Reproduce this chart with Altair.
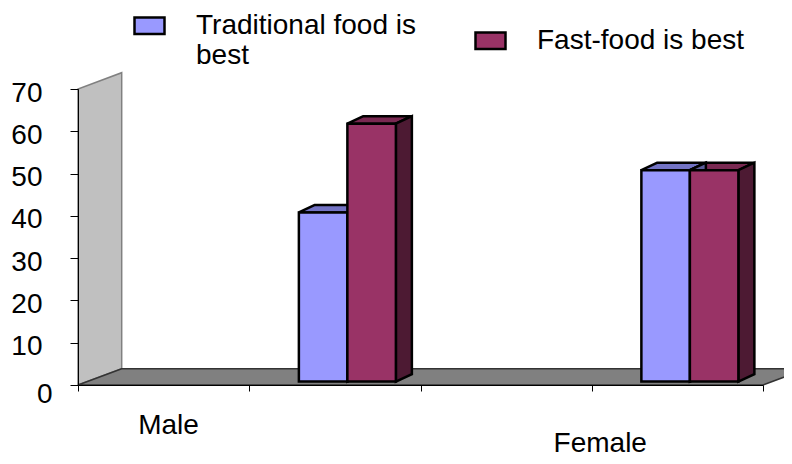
import altair as alt
import pandas as pd

# ---------------- data ----------------
series = ["Traditional food is best", "Fast-food is best"]
groups = ["Male", "Female"]
traditional = [40, 50]
fastfood = [61, 50]
y_ticks = [0, 10, 20, 30, 40, 50, 60, 70]
x_ticks = [0, 1, 2, 3, 4]
label_ticks = [0, 3]          # category tick carrying each group label
group_pos = [1.5, 3.5]        # category position of each group's bars

# ---------------- style / layout ----------------
FONT = "Liberation Sans"
BLUE, RED = "#9999FF", "#993366"
BLUE_TOP, RED_TOP = "#7373C4", "#7A2952"
BLUE_SIDE, RED_SIDE = "#5C5C99", "#4D1A33"
W, H = 685, 296
X_MAX, Y_MAX = 4, 70
PX_X = W / X_MAX
PX_Y = H / Y_MAX
# 3-D depth offsets (pixels -> data units)
WALL_DX, WALL_DY = 43.7 / PX_X, 16.3 / PX_Y
BAR_DX, BAR_DY = 16 / PX_X, 7.5 / PX_Y
FRONT_DX, FRONT_DY = 12.5 / PX_X, 3.4 / PX_Y
BAR_W = 48.5 / PX_X

values = {series[0]: traditional, series[1]: fastfood}
tops, sides, fronts = [], [], []
for gi, g in enumerate(groups):
    for k, s in enumerate(series):
        v = values[s][gi]
        x0 = group_pos[gi] + FRONT_DX - BAR_W + k * BAR_W
        x1 = x0 + BAR_W
        y0 = FRONT_DY
        y1 = FRONT_DY + v
        face = f"{g}-{k}"
        tc = [BLUE_TOP, RED_TOP][k]
        sc = [BLUE_SIDE, RED_SIDE][k]
        tops += [
            dict(face=face, fill=tc, y=y1, x=x0, x2=x1),
            dict(face=face, fill=tc, y=y1 + BAR_DY, x=x0 + BAR_DX, x2=x1 + BAR_DX),
        ]
        sides += [
            dict(face=face, fill=sc, x=x1, y=y0, y2=y1),
            dict(face=face, fill=sc, x=x1 + BAR_DX, y=y0 + BAR_DY, y2=y1 + BAR_DY),
        ]
        fronts.append(dict(series=s, group=g, value=v, x=x0, x2=x1, y=y0, y2=y1))

wall = pd.DataFrame([
    dict(face="wall", x=0, y=0, y2=Y_MAX),
    dict(face="wall", x=WALL_DX, y=WALL_DY, y2=Y_MAX + WALL_DY),
])
floor = pd.DataFrame([
    dict(face="floor", y=0, x=0, x2=X_MAX),
    dict(face="floor", y=WALL_DY, x=WALL_DX, x2=X_MAX + WALL_DX),
])

xscale = alt.Scale(domain=[0, X_MAX], nice=False, zero=False)
yscale = alt.Scale(domain=[0, Y_MAX], nice=False)

lab_expr = "".join(
    f"datum.value === {t} ? '{n}' : " for t, n in zip(label_ticks, groups)
) + "''"

x_axis = alt.Axis(
    values=x_ticks, title=None, grid=False, tickSize=6, tickColor="black",
    domainColor="black", labelExpr=lab_expr, labelFont=FONT, labelFontSize=28,
    labelColor="black", labelBaseline="alphabetic", labelFlush=False,
    labelOverlap=False, labelBound=False, zindex=1,
    labelOffset={"condition": {"test": f"datum.value === {label_ticks[0]}", "value": 90}, "value": 8},
    labelPadding={"condition": {"test": f"datum.value === {label_ticks[0]}", "value": 42}, "value": 60},
)
y_axis = alt.Axis(
    values=y_ticks, title=None, grid=False, tickSize=8, tickColor="black",
    domainColor="black", labelFont=FONT, labelFontSize=28, labelColor="black",
    zindex=1,
    labelOffset={"condition": {"test": "datum.value === 0", "value": 9}, "value": 4},
    labelPadding={"condition": {"test": "datum.value === 0", "value": 18}, "value": 28},
)

wall_layer = alt.Chart(wall).mark_area(
    orient="vertical", fill="#C0C0C0", stroke="#808080", strokeWidth=1.5
).encode(
    x=alt.X("x:Q", scale=xscale, axis=x_axis),
    y=alt.Y("y:Q", scale=yscale, axis=y_axis),
    y2="y2:Q",
    detail="face:N",
)
floor_layer = alt.Chart(floor).mark_area(
    orient="horizontal", fill="#808080", stroke="#333333", strokeWidth=1.5
).encode(
    y=alt.Y("y:Q", scale=yscale, axis=y_axis),
    x=alt.X("x:Q", scale=xscale, axis=x_axis),
    x2="x2:Q",
    detail="face:N",
)
top_layer = alt.Chart(pd.DataFrame(tops)).mark_area(
    orient="horizontal", stroke="black", strokeWidth=2.5
).encode(
    y=alt.Y("y:Q", scale=yscale, axis=y_axis),
    x=alt.X("x:Q", scale=xscale, axis=x_axis),
    x2="x2:Q",
    fill=alt.Fill("fill:N", scale=None),
    detail="face:N",
)
side_layer = alt.Chart(pd.DataFrame(sides)).mark_area(
    orient="vertical", stroke="black", strokeWidth=2.5
).encode(
    x=alt.X("x:Q", scale=xscale, axis=x_axis),
    y=alt.Y("y:Q", scale=yscale, axis=y_axis),
    y2="y2:Q",
    fill=alt.Fill("fill:N", scale=None),
    detail="face:N",
)

leg_expr = (
    f"datum.label === '{series[0]}' ? ['Traditional food is', 'best'] : datum.label"
)
front_layer = alt.Chart(pd.DataFrame(fronts)).mark_bar(
    stroke="black", strokeWidth=2.5, opacity=1
).encode(
    x=alt.X("x:Q", scale=xscale, axis=x_axis),
    x2="x2:Q",
    y=alt.Y("y:Q", scale=yscale, axis=y_axis),
    y2="y2:Q",
    color=alt.Color(
        "series:N",
        scale=alt.Scale(domain=series, range=[BLUE, RED]),
        legend=alt.Legend(
            orient="none", legendX=55, legendY=-80, direction="horizontal",
            title=None, symbolType="M-1,-0.55H1V0.55H-1Z", symbolSize=900,
            symbolStrokeColor="black", symbolStrokeWidth=2.5, symbolOpacity=1,
            labelFont=FONT, labelFontSize=28, labelColor="black",
            labelOffset=30, columnPadding=54, labelLimit=500, padding=0,
            labelExpr=leg_expr,
        ),
    ),
    tooltip=["group:N", "series:N", "value:Q"],
)

chart = alt.layer(
    wall_layer, floor_layer, top_layer, side_layer, front_layer
).properties(
    width=W, height=H,
    padding={"left": 70, "top": 81, "right": 21, "bottom": 71},
    autosize=alt.AutoSizeParams(type="none"),
    background="white",
).configure_view(stroke=None)

chart.save("out.html", embed_options={"renderer": "svg", "actions": False})
